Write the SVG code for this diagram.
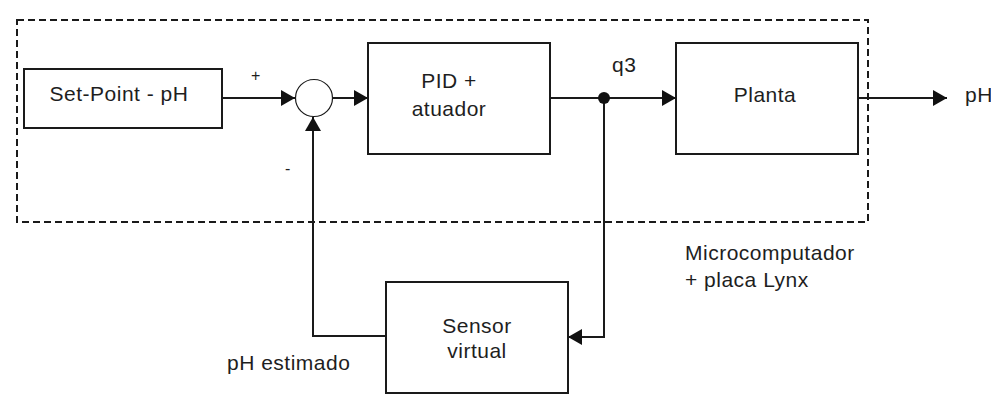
<svg xmlns="http://www.w3.org/2000/svg" width="991" height="396" viewBox="0 0 991 396">
<defs>
<style>
.box{fill:#ffffff;stroke:#1a1a1a;stroke-width:2}
.ln{fill:none;stroke:#1a1a1a;stroke-width:2}
.dash{fill:none;stroke:#1a1a1a;stroke-width:2;stroke-dasharray:7 4}
text{font-family:"Liberation Sans",Arial,sans-serif;font-size:21px;fill:#1e1e1e;letter-spacing:0.5px}
.mid{text-anchor:middle}
</style>
<marker id="arr" viewBox="0 0 14 16" refX="14" refY="8" markerWidth="14" markerHeight="16" markerUnits="userSpaceOnUse" orient="auto">
<path d="M0,0 L14,8 L0,16 Z" fill="#111"/>
</marker>
</defs>
<rect x="0" y="0" width="991" height="396" fill="#ffffff"/>
<rect x="17" y="20" width="851" height="202" class="dash" fill="#fcfcfc"/>
<g id="connectors">
<line x1="222" y1="98" x2="295" y2="98" class="ln" marker-end="url(#arr)"/>
<line x1="333" y1="98" x2="368" y2="98" class="ln" marker-end="url(#arr)"/>
<line x1="550" y1="98" x2="676" y2="98" class="ln" marker-end="url(#arr)"/>
<line x1="858" y1="98" x2="947" y2="98" class="ln" marker-end="url(#arr)"/>
<polyline points="604,98 604,337 568,337" class="ln" marker-end="url(#arr)"/>
<polyline points="386,336 313,336 313,117" class="ln" marker-end="url(#arr)"/>
<circle cx="604" cy="98" r="6" fill="#111"/>
<text x="612" y="72">q3</text>
<text x="251" y="81" style="font-size:16px">+</text>
<text x="285" y="174" style="font-size:16px">-</text>
<text x="965" y="102">pH</text>
<text x="227" y="370">pH estimado</text>
</g>
<g id="setpoint">
<rect x="24" y="69" width="198" height="59" class="box"/>
<text x="119" y="101" class="mid">Set-Point - pH</text>
</g>
<g id="sum">
<circle cx="314" cy="98" r="18.5" fill="#ffffff" stroke="#1a1a1a" stroke-width="1.2"/>
</g>
<g id="pid">
<rect x="368" y="43" width="182" height="111" class="box"/>
<text x="449" y="88" class="mid">PID +</text>
<text x="449" y="116" class="mid">atuador</text>
</g>
<g id="planta">
<rect x="676" y="43" width="182" height="111" class="box"/>
<text x="765" y="102" class="mid">Planta</text>
</g>
<g id="sensor">
<rect x="386" y="282" width="182" height="111" class="box"/>
<text x="477" y="333" class="mid">Sensor</text>
<text x="477" y="358" class="mid">virtual</text>
</g>
<g id="label-micro">
<text x="685" y="260">Microcomputador</text>
<text x="685" y="287">+ placa Lynx</text>
</g>
</svg>
